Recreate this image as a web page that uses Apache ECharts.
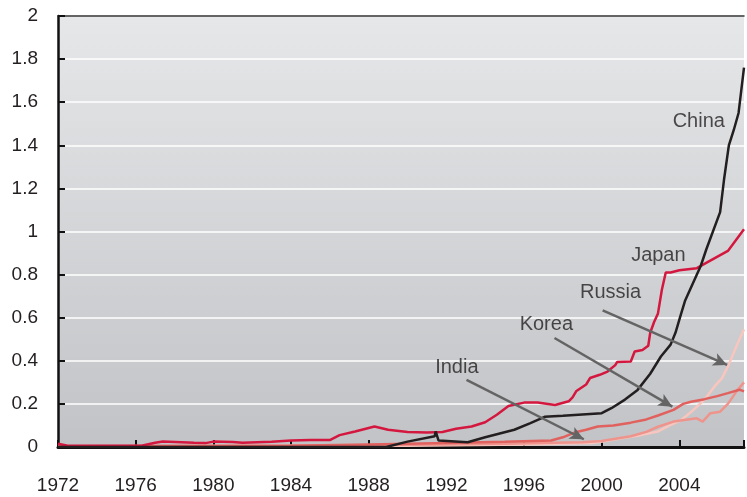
<!DOCTYPE html>
<html>
<head>
    <meta charset="utf-8" />
    <title></title>
    <style>
        html, body { margin: 0; padding: 0; background: #fff; }
        #chart { width: 747px; height: 497px; }
    </style>
</head>
<body>
    <div id="chart"></div>
    <script src="https://cdn.jsdelivr.net/npm/echarts@6/dist/echarts.min.js"></script>
    <script>
        // [year, value]
        var china = [[1972, 0], [1988.9, 0], [1990, 0.025], [1991.4, 0.05], [1991.45, 0.072], [1991.6, 0.03],
            [1993.1, 0.022], [1994, 0.045], [1995.5, 0.08], [1996.3, 0.11], [1997.06, 0.14], [1998, 0.145],
            [2000, 0.157], [2000.5, 0.18], [2001.2, 0.22], [2001.85, 0.265], [2002.5, 0.34], [2003.05, 0.42],
            [2003.55, 0.475], [2003.8, 0.53], [2004.05, 0.606], [2004.3, 0.68], [2005.1, 0.84], [2005.4, 0.92],
            [2006.1, 1.09], [2006.3, 1.24], [2006.55, 1.4], [2006.8, 1.47], [2007.05, 1.55], [2007.33, 1.76]];
        var japan = [[1972, 0.015], [1972.5, 0.006], [1976.3, 0.006], [1977, 0.02], [1977.4, 0.026], [1979, 0.02],
            [1979.6, 0.018], [1980, 0.025], [1981, 0.023], [1981.5, 0.02], [1983, 0.024], [1984, 0.03],
            [1985, 0.032], [1986, 0.032], [1986.5, 0.055], [1987.3, 0.072], [1988.3, 0.095], [1989, 0.08],
            [1990, 0.07], [1991, 0.067], [1991.8, 0.07], [1992.5, 0.085], [1993.3, 0.095], [1994, 0.115],
            [1994.6, 0.15], [1995.2, 0.19], [1996, 0.206], [1996.7, 0.206], [1997.6, 0.195], [1998.3, 0.212],
            [1998.5, 0.23], [1998.7, 0.26], [1999.2, 0.29], [1999.4, 0.32], [1999.9, 0.335], [2000.3, 0.35],
            [2000.7, 0.38], [2000.8, 0.395], [2001.5, 0.397], [2001.7, 0.443], [2002.1, 0.45], [2002.4, 0.47],
            [2002.5, 0.53], [2002.7, 0.58], [2002.9, 0.62], [2003.1, 0.73], [2003.3, 0.81], [2003.55, 0.81],
            [2004, 0.82], [2004.9, 0.83], [2005.5, 0.86], [2006.5, 0.91], [2007.33, 1.01]];
        var korea = [[1972, 0.004], [1984, 0.006], [1988, 0.012], [1992, 0.018], [1995, 0.024], [1997.4, 0.03],
            [1998, 0.045], [1998.6, 0.067], [1999.2, 0.08], [1999.8, 0.095], [2000.6, 0.1], [2001.5, 0.113],
            [2002.3, 0.128], [2002.9, 0.146], [2003.7, 0.172], [2004.2, 0.2], [2004.6, 0.21], [2005.3, 0.222],
            [2005.95, 0.236], [2006.5, 0.25], [2007.1, 0.266], [2007.33, 0.258]];
        var india = [[1972, 0.003], [1988, 0.008], [1995, 0.015], [1999, 0.022], [2000, 0.028], [2001.5, 0.05],
            [2002.3, 0.07], [2002.9, 0.094], [2003.7, 0.118], [2004.9, 0.133], [2005.2, 0.118], [2005.6, 0.157],
            [2006.1, 0.164], [2006.5, 0.2], [2007, 0.265], [2007.33, 0.3]];
        var russia = [[1972, 0.002], [1990, 0.006], [1996, 0.012], [1999.5, 0.018], [2000.05, 0.025], [2001, 0.04],
            [2002, 0.055], [2002.9, 0.072], [2003.5, 0.1], [2004.1, 0.125], [2004.7, 0.17], [2005.3, 0.22],
            [2005.8, 0.28], [2006.2, 0.32], [2006.5, 0.373], [2007, 0.48], [2007.33, 0.545]];

        // label positions and arrows (data coords)
        var labels = [['China', 2005.0, 1.51], ['Japan', 2002.92, 0.888], ['Russia', 2000.46, 0.716],
            ['Korea', 1997.15, 0.567], ['India', 1992.54, 0.367]];
        var arrows = [[[1993.04, 0.312], [1999.08, 0.036]], [[1997.57, 0.506], [2003.64, 0.187]],
            [[2000.05, 0.634], [2006.46, 0.381]]];

        var font = '"Liberation Sans", Arial, sans-serif';

        function line(name, data, color) {
            return {
                name: name, type: 'line', data: data, symbol: 'none', clip: true,
                lineStyle: { color: color, width: 2.5 }
            };
        }

        var option = {
            animation: false,
            grid: {
                left: 58, right: 0, top: 16, bottom: 50, show: true, borderWidth: 0,
                backgroundColor: {
                    type: 'linear', x: 0, y: 0, x2: 0, y2: 1,
                    colorStops: [{ offset: 0, color: '#e6e7e9' }, { offset: 1, color: '#c2c3c6' }]
                }
            },
            xAxis: [{
                type: 'value', min: 1972, max: 2007.33, interval: 4,
                axisLine: { lineStyle: { color: '#111', width: 3 } },
                axisTick: { inside: true, length: 7, lineStyle: { color: '#111', width: 2 } },
                axisLabel: {
                    color: '#231f20', fontSize: 19, fontFamily: font, margin: 29,
                    formatter: function (v) { return v % 4 === 0 ? String(v) : ''; }
                },
                splitLine: { show: false }
            }, {
                type: 'value', position: 'top', min: 1972, max: 2007.33,
                axisLine: { lineStyle: { color: '#333', width: 1.5 } },
                axisTick: { show: false }, axisLabel: { show: false }, splitLine: { show: false }
            }],
            yAxis: {
                type: 'value', min: 0, max: 2, interval: 0.2,
                axisLine: { show: true, lineStyle: { color: '#111', width: 2.5 } },
                axisTick: { inside: true, length: 7, lineStyle: { color: '#111', width: 2 } },
                axisLabel: {
                    color: '#231f20', fontSize: 19, fontFamily: font, margin: 20,
                    formatter: function (v) { return String(Math.round(v * 10) / 10); }
                },
                splitLine: { lineStyle: { color: '#ffffff', width: 1.5 } }
            },
            series: [
                line('Russia', russia, '#f8c6be'),
                line('India', india, '#ee948c'),
                line('Korea', korea, '#e0615e'),
                line('Japan', japan, '#d4173f'),
                line('China', china, '#231f20'),
                {
                    type: 'scatter', symbolSize: 0, silent: true,
                    data: labels.map(function (l) { return { name: l[0], value: [l[1], l[2]] }; }),
                    label: {
                        show: true, position: 'inside', formatter: '{b}',
                        color: '#231f20', fontSize: 20, fontFamily: font
                    },
                    markLine: {
                        silent: true, symbol: ['none', 'arrow'], symbolSize: [10, 14],
                        lineStyle: { color: '#646464', width: 2.5, type: 'solid' },
                        label: { show: false },
                        data: arrows.map(function (a) {
                            return [{ coord: a[0] }, { coord: a[1] }];
                        })
                    }
                }
            ]
        };

        var chart = echarts.init(document.getElementById('chart'));
        chart.setOption(option);
    </script>
</body>
</html>
